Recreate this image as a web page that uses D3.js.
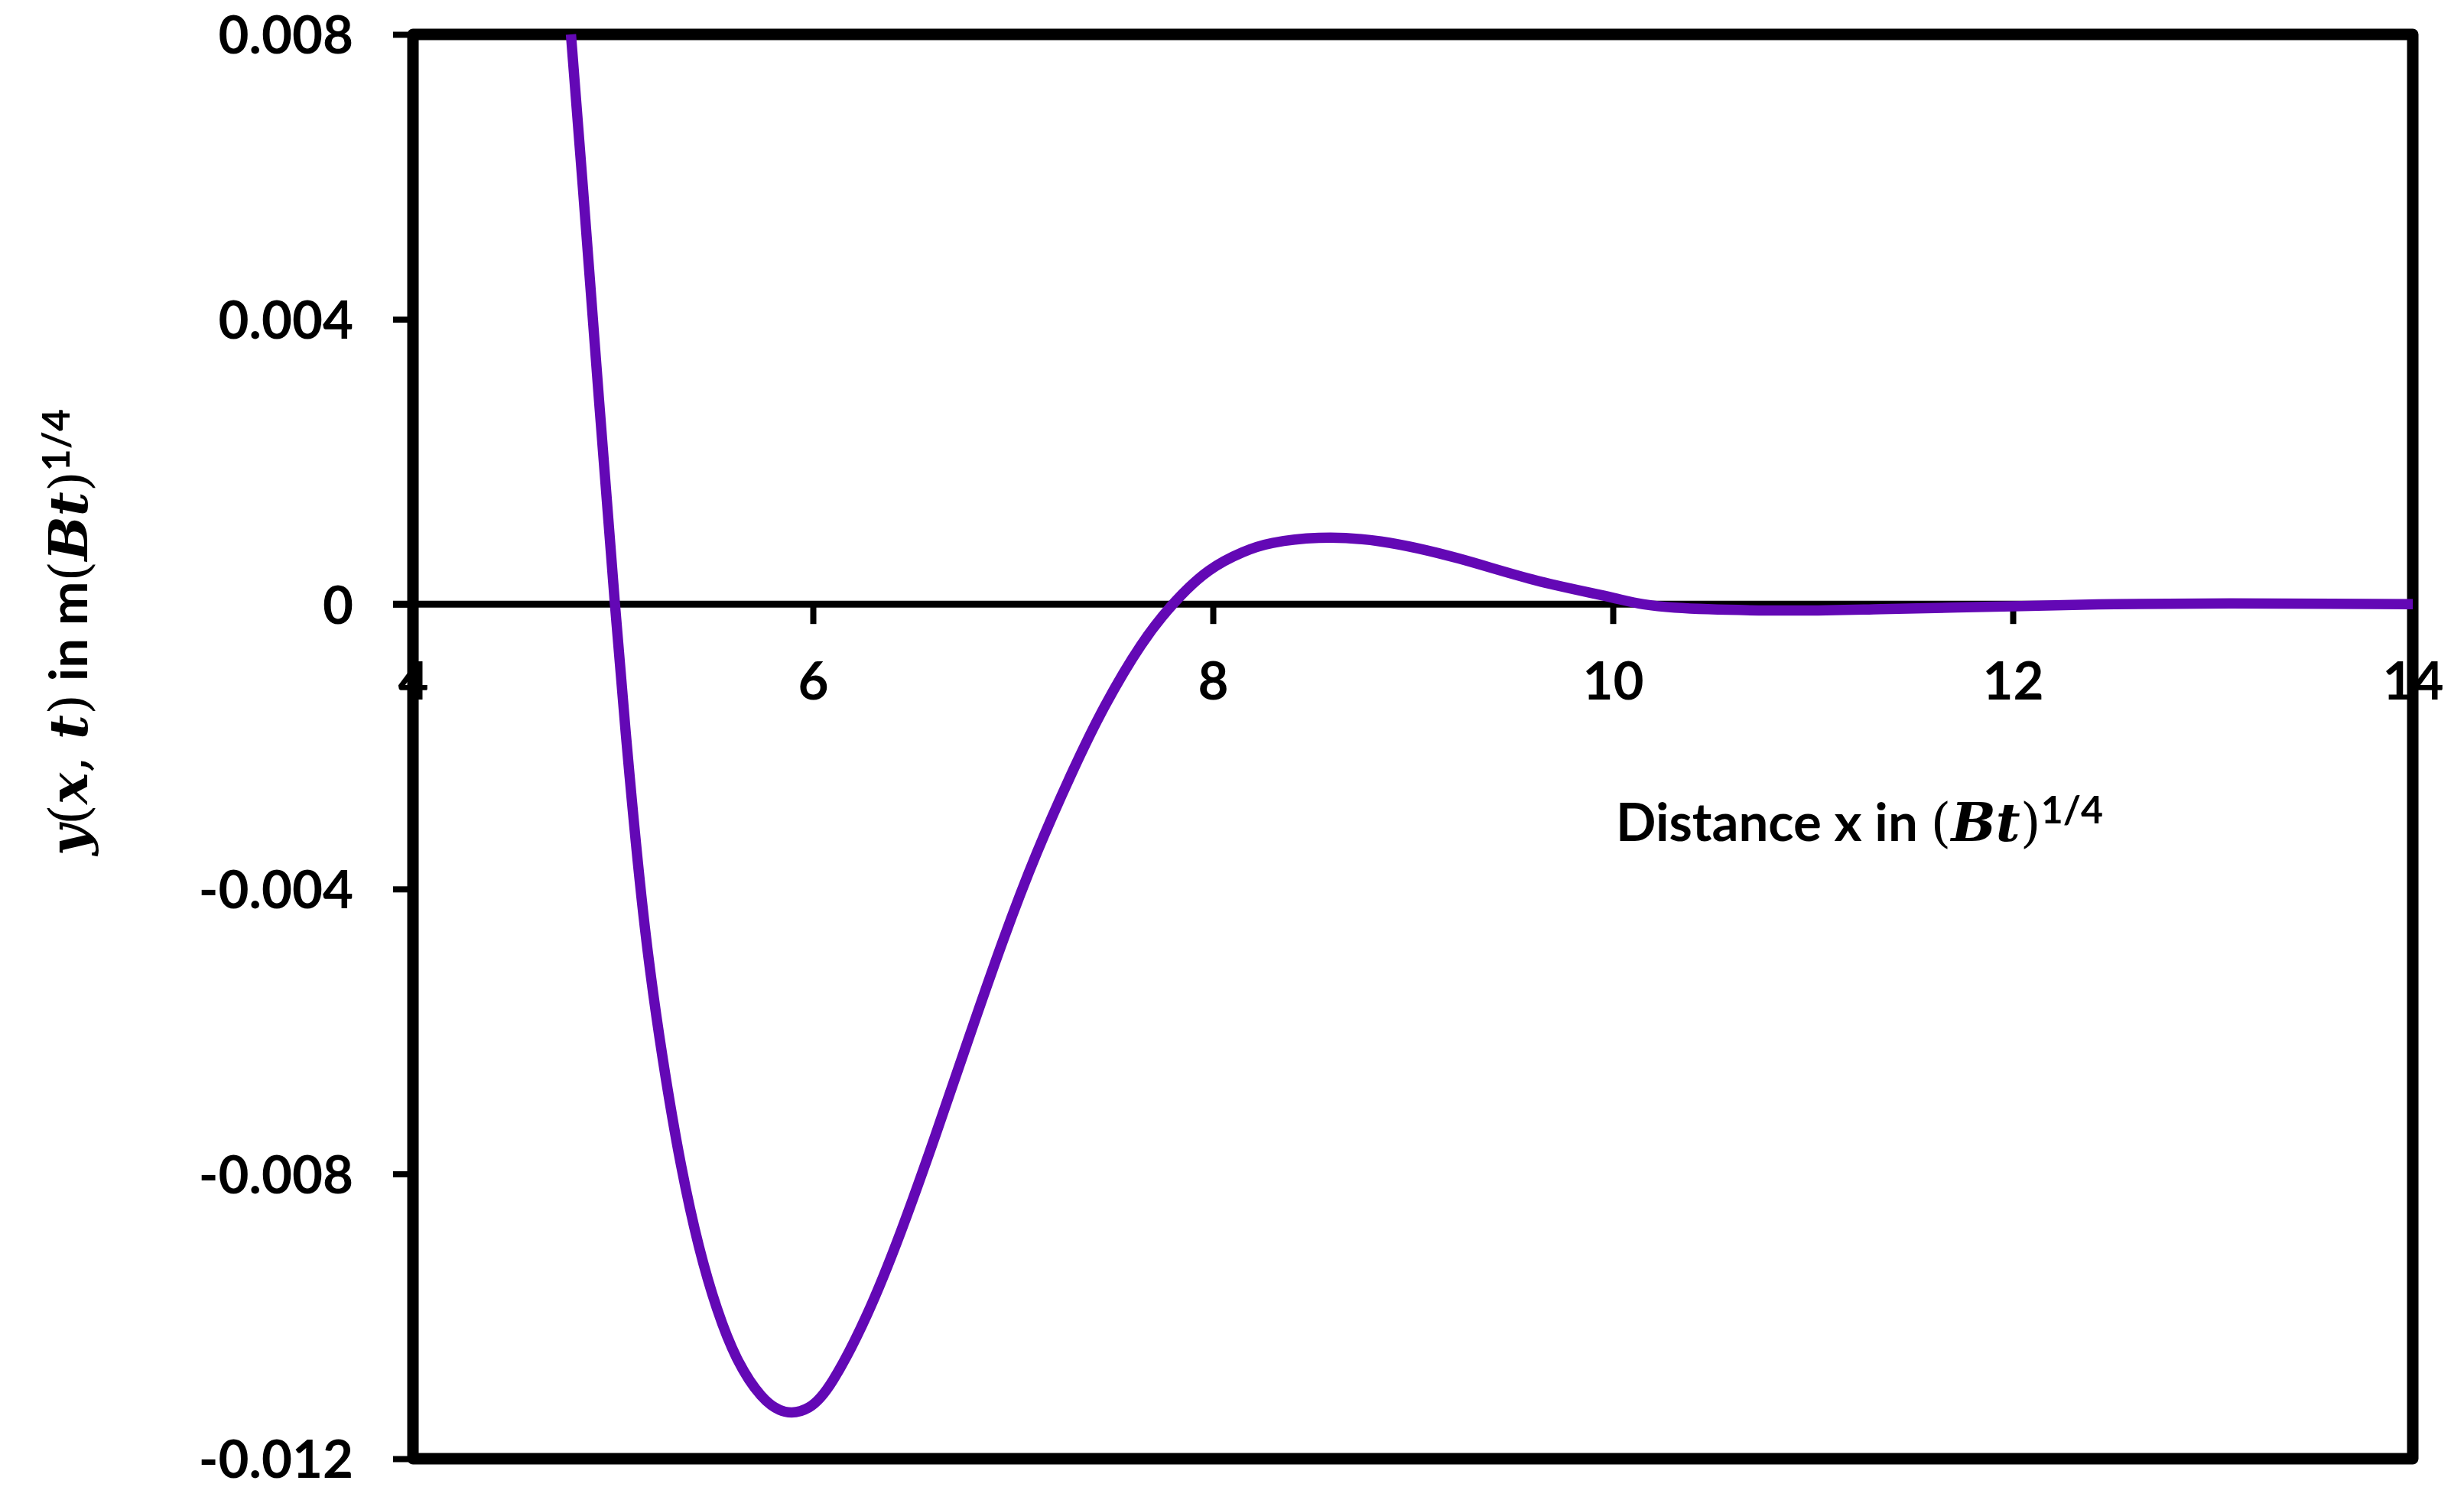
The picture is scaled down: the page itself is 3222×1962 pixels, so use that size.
<!DOCTYPE html>
<html>
<head>
<meta charset="utf-8">
<script src="https://cdn.jsdelivr.net/npm/d3@7"></script>
<style>
  body { margin: 0; background: #fff; }
  text { font-family: Lato, "Open Sans", sans-serif; font-weight: bold; fill: #000; }
  .m { font-family: "DejaVu Serif", serif; font-style: italic; font-weight: bold; }
  .p { font-family: "DejaVu Serif", serif; font-style: normal; font-weight: normal; }
</style>
</head>
<body>
<svg id="chart"></svg>
<script>
// data
var xs = [4.79, 4.85, 4.93, 5.01, 5.08, 5.16, 5.25, 5.34, 5.43, 5.52,
          5.62, 5.74, 5.86, 5.98, 6.10, 6.27, 6.44, 6.61, 6.78, 6.95,
          7.12, 7.30, 7.46, 7.64, 7.81, 7.98, 8.15, 8.30, 8.53, 8.84,
          9.23, 9.62, 10.0, 10.31, 10.90, 11.34, 12.0, 12.51, 13.09, 14.0]
var ys = [0.0080, 0.00584, 0.00288, 0.0, -0.00231, -0.00455, -0.0064, -0.00787, -0.00902, -0.00989,
          -0.01059, -0.01111, -0.01134, -0.01128, -0.0109, -0.00998, -0.00881, -0.00748, -0.00609, -0.00473,
          -0.00349, -0.00234, -0.00143, -0.00058, 0.00003, 0.00047, 0.00073, 0.00086, 0.00093, 0.00088,
          0.00064, 0.00033, 0.00009, -0.00005, -0.00009, -0.00007, -0.00003, 0.0, 0.00001, 0.0]

var xTicks = [4, 6, 8, 10, 12, 14]
var yTicks = [0.008, 0.004, 0, -0.004, -0.008, -0.012]
var yTickLabels = ["0.008", "0.004", "0", "-0.004", "-0.008", "-0.012"]

var W = 3222, H = 1962
var pLeft = 540, pRight = 3155, pTop = 45, pBottom = 1908

var svg = d3.select("#chart").attr("width", W).attr("height", H)
svg.append("rect").attr("width", W).attr("height", H).attr("fill", "#fff")

var x = d3.scaleLinear().domain([4, 14]).range([pLeft, pRight])
var y = d3.scaleLinear().domain([-0.012, 0.008]).range([pBottom, pTop])

// y axis ticks + labels
var yAxis = d3.axisLeft(y).tickValues(yTicks).tickSize(26).tickPadding(52)
    .tickFormat(function(d, i) { return yTickLabels[i] })
var gy = svg.append("g").attr("transform", "translate(" + pLeft + ",0)").call(yAxis)
gy.select(".domain").remove()
gy.selectAll(".tick line").attr("stroke", "#000").attr("stroke-width", 8)
gy.selectAll(".tick text").attr("dy", "0.36em").style("font-size", "69px")
    .style("font-family", "Lato, sans-serif").style("font-weight", "bold")

// x axis at y = 0
svg.append("line")
    .attr("x1", x(4) - 26).attr("x2", x(14))
    .attr("y1", y(0)).attr("y2", y(0))
    .attr("stroke", "#000").attr("stroke-width", 9)

var xAxis = d3.axisBottom(x).tickValues(xTicks).tickSize(26)
var gx = svg.append("g").attr("transform", "translate(0," + y(0) + ")").call(xAxis)
gx.select(".domain").remove()
gx.selectAll(".tick line").attr("stroke", "#000").attr("stroke-width", 8)
gx.selectAll(".tick text").attr("y", 100).attr("dy", "0.36em").style("font-size", "69px")
    .style("font-family", "Lato, sans-serif").style("font-weight", "bold")

// plot frame
svg.append("rect")
    .attr("x", pLeft).attr("y", pTop)
    .attr("width", pRight - pLeft).attr("height", pBottom - pTop)
    .attr("fill", "none").attr("stroke", "#000").attr("stroke-width", 15)
    .attr("stroke-linejoin", "round")

// curve
var pts = xs.map(function(d, i) { return [d, ys[i]] })
var line = d3.line()
    .x(function(d) { return x(d[0]) })
    .y(function(d) { return y(d[1]) })
    .curve(d3.curveNatural)
svg.append("path").datum(pts)
    .attr("d", line)
    .attr("fill", "none")
    .attr("stroke", "#6308b5")
    .attr("stroke-width", 13.5)

// x axis title
var xt = svg.append("text").attr("x", 2113).attr("y", 1100).style("font-size", "69px")
xt.append("tspan").text("Distance x in ")
xt.append("tspan").attr("class", "p").text("(")
xt.append("tspan").attr("class", "m").text("Bt")
xt.append("tspan").attr("class", "p").text(")")
xt.append("tspan").attr("dy", -23).style("font-size", "50px").text("1/4")

// y axis title
var yt = svg.append("text")
    .attr("transform", "translate(114,827) rotate(-90)")
    .attr("text-anchor", "middle")
    .style("font-size", "69px")
yt.append("tspan").attr("class", "m").text("y")
yt.append("tspan").attr("class", "p").text("(")
yt.append("tspan").attr("class", "m").text("x")
yt.append("tspan").attr("class", "p").text(", ")
yt.append("tspan").attr("class", "m").text("t")
yt.append("tspan").attr("class", "p").text(")")
yt.append("tspan").text(" in m")
yt.append("tspan").attr("class", "p").text("(")
yt.append("tspan").attr("class", "m").text("Bt")
yt.append("tspan").attr("class", "p").text(")")
yt.append("tspan").attr("dy", -23).style("font-size", "50px").text("1/4")
</script>
</body>
</html>
